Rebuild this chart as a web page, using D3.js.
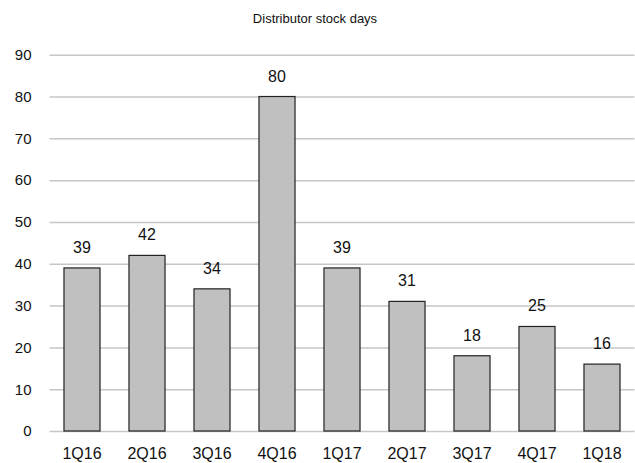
<!DOCTYPE html>
<html>
<head>
<meta charset="utf-8">
<script src="https://cdn.jsdelivr.net/npm/d3@7"></script>
<style>
  html, body { margin: 0; padding: 0; background: #fff; }
  svg { display: block; }
</style>
</head>
<body>
<svg id="chart" width="635" height="463"></svg>
<script>
// Quarterly distributor stock days
const categories = ["1Q16", "2Q16", "3Q16", "4Q16", "1Q17", "2Q17", "3Q17", "4Q17", "1Q18"];
const stockDays = [39, 42, 34, 80, 39, 31, 18, 25, 16];
const yTicks = [0, 10, 20, 30, 40, 50, 60, 70, 80, 90];
const chartTitle = "Distributor stock days";

const svg = d3.select("#chart");
const font = "'Liberation Sans', Arial, sans-serif";

const plot = { left: 49.5, right: 634.5, top: 54.7, bottom: 431 };

const x = d3.scaleBand()
  .domain(categories)
  .range([plot.left, plot.right])
  .paddingInner(0.43)
  .paddingOuter(0.215);

const y = d3.scaleLinear()
  .domain([0, 90])
  .range([plot.bottom, plot.top]);

// Title
svg.append("text")
  .attr("x", 315)
  .attr("y", 23)
  .attr("text-anchor", "middle")
  .attr("font-family", font)
  .attr("font-size", 13)
  .attr("fill", "#111")
  .text(chartTitle);

// Horizontal gridlines and y labels
const yAxis = d3.axisLeft(y)
  .tickValues(yTicks)
  .tickSize(-(plot.right - plot.left))
  .tickPadding(18)
  .tickFormat(d3.format("d"));

const gy = svg.append("g")
  .attr("transform", `translate(${plot.left},0)`)
  .call(yAxis);
gy.select(".domain").remove();
gy.selectAll(".tick line")
  .attr("stroke", "#c6c6c6")
  .attr("stroke-width", 1.5);
gy.selectAll(".tick text")
  .attr("font-family", font)
  .attr("font-size", 15)
  .attr("fill", "#111");

// Bars
svg.append("g")
  .selectAll("rect")
  .data(stockDays)
  .join("rect")
  .attr("x", (d, i) => x(categories[i]) + 0.5)
  .attr("y", d => y(d))
  .attr("width", x.bandwidth() - 1)
  .attr("height", d => y(0) - y(d))
  .attr("fill", "#c0c0c0")
  .attr("stroke", "#222")
  .attr("stroke-width", 1.2);

// Value labels
svg.append("g")
  .selectAll("text")
  .data(stockDays)
  .join("text")
  .attr("x", (d, i) => x(categories[i]) + x.bandwidth() / 2)
  .attr("y", d => y(d) - 15)
  .attr("text-anchor", "middle")
  .attr("font-family", font)
  .attr("font-size", 16)
  .attr("fill", "#111")
  .text(d => d);

// Category axis labels
const xAxis = d3.axisBottom(x).tickSize(0).tickPadding(17);
const gx = svg.append("g")
  .attr("transform", `translate(0,${plot.bottom})`)
  .call(xAxis);
gx.select(".domain").remove();
gx.selectAll(".tick text")
  .attr("font-family", font)
  .attr("font-size", 16)
  .attr("fill", "#111");
</script>
</body>
</html>
